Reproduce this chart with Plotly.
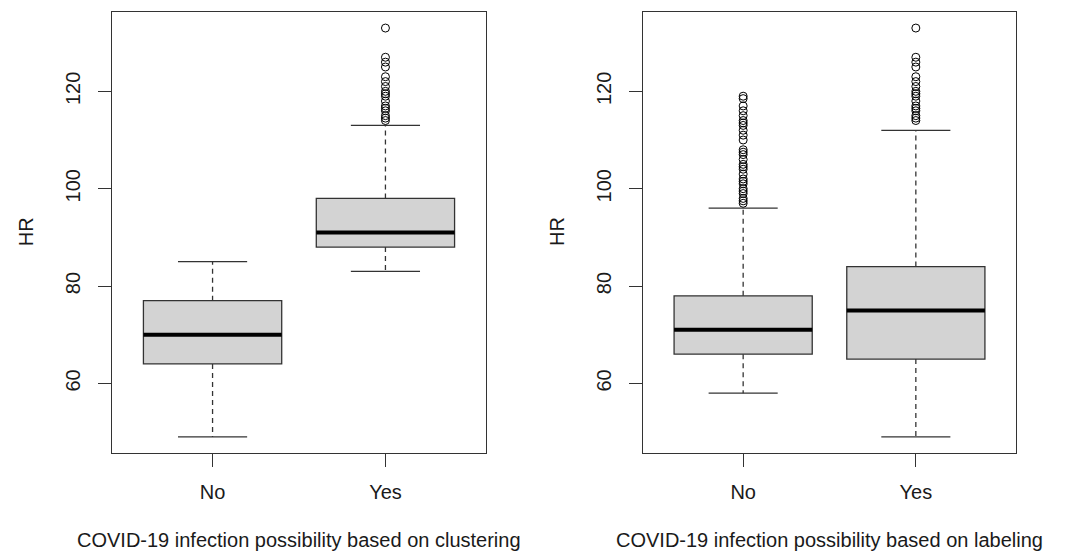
import plotly.graph_objects as go

# the page body adds an 8px margin; size the figure so it fills the 1067x553 window
OFF = 8
W, H = 1067 - OFF, 553 - OFF

# ---------------- data ----------------
categories = ["No", "Yes"]
cat_pos = [1, 2]

# Panel 1: clustering
clu_q1 = [64, 88]
clu_median = [70, 91]
clu_q3 = [77, 98]
clu_lower = [49, 83]
clu_upper = [85, 113]
clu_out_no = []
clu_out_yes = [114, 114.5, 115, 116, 116.5, 117, 118, 119, 119.5, 120, 121, 122, 123,
               125, 126, 127, 133]

# Panel 2: labeling
lab_q1 = [66, 65]
lab_median = [71, 75]
lab_q3 = [78, 84]
lab_lower = [58, 49]
lab_upper = [96, 112]
lab_out_no = [97, 97.5, 98, 99, 99.5, 100, 101, 101.5, 102, 103, 104, 104.5, 105, 106,
              107, 107.5, 108, 110, 111, 112, 113, 113.5, 114, 115, 116, 117, 118.5, 119]
lab_out_yes = [114, 114.5, 115, 116, 116.5, 117, 118, 119, 119.5, 120, 121, 122, 123,
               125, 126, 127, 133]

y_ticks = [60, 80, 100, 120]
y_title = "HR"
x_titles = ["COVID-19 infection possibility based on clustering",
            "COVID-19 infection possibility based on labeling"]

# ---------------- style ----------------
FONT = "Liberation Sans, Arial, sans-serif"
FS = 20
TXT = "#1a1a1a"
FRAME = "#333333"
BOX_FILL = "#d3d3d3"
BOX_HALF = 0.4
CAP_HALF = 0.2

fig = go.Figure()


def add_panel(xref, yref, q1, med, q3, lo, up, outliers):
    # box body
    fig.add_trace(go.Box(
        x=cat_pos, q1=q1, median=med, q3=q3, lowerfence=q1, upperfence=q3,
        width=2 * BOX_HALF, fillcolor=BOX_FILL,
        line=dict(color=FRAME, width=1.3), xaxis=xref, yaxis=yref,
        showlegend=False, hoverinfo="skip"))
    # whiskers (dashed)
    wx, wy = [], []
    for p, a, b, c, d in zip(cat_pos, q1, q3, lo, up):
        wx += [p, p, None, p, p, None]
        wy += [b, d, None, a, c, None]
    fig.add_trace(go.Scatter(x=wx, y=wy, mode="lines",
                             line=dict(color=FRAME, width=1.3, dash="5px,4px"),
                             xaxis=xref, yaxis=yref, showlegend=False, hoverinfo="skip"))
    # caps
    cx, cy = [], []
    for p, c, d in zip(cat_pos, lo, up):
        cx += [p - CAP_HALF, p + CAP_HALF, None, p - CAP_HALF, p + CAP_HALF, None]
        cy += [c, c, None, d, d, None]
    fig.add_trace(go.Scatter(x=cx, y=cy, mode="lines",
                             line=dict(color=FRAME, width=1.3),
                             xaxis=xref, yaxis=yref, showlegend=False, hoverinfo="skip"))
    # thick medians
    mx, my = [], []
    for p, m in zip(cat_pos, med):
        mx += [p - BOX_HALF, p + BOX_HALF, None]
        my += [m, m, None]
    fig.add_trace(go.Scatter(x=mx, y=my, mode="lines",
                             line=dict(color="black", width=4),
                             xaxis=xref, yaxis=yref, showlegend=False, hoverinfo="skip"))
    # outliers
    for p, vals in zip(cat_pos, outliers):
        if vals:
            fig.add_trace(go.Scatter(
                x=[p] * len(vals), y=vals, mode="markers",
                marker=dict(symbol="circle-open", size=8, color="black",
                            line=dict(width=1, color="black")),
                xaxis=xref, yaxis=yref, showlegend=False, hoverinfo="skip"))


add_panel("x", "y", clu_q1, clu_median, clu_q3, clu_lower, clu_upper,
          [clu_out_no, clu_out_yes])
add_panel("x2", "y2", lab_q1, lab_median, lab_q3, lab_lower, lab_upper,
          [lab_out_no, lab_out_yes])

# panel geometry (window pixels -> figure pixels)
left1, right1 = 112.3 - OFF, 485.7 - OFF
left2, right2 = 643.0 - OFF, 1016.0 - OFF
top, bottom = 11.7 - OFF, 453.3 - OFF
ydom = [1 - bottom / H, 1 - top / H]

xaxis_common = dict(range=[0.42, 2.58], tickvals=cat_pos, ticktext=categories,
                    ticks="outside", ticklen=13, tickwidth=1.3, tickcolor=FRAME,
                    showline=True, linecolor=FRAME, linewidth=1.3, mirror=True,
                    showgrid=False, zeroline=False, ticklabelstandoff=8,
                    tickfont=dict(family=FONT, size=FS, color=TXT))
yaxis_common = dict(range=[45.64, 136.36], tickvals=y_ticks,
                    ticks="outside", ticklen=13, tickwidth=1.3, tickcolor=FRAME,
                    showline=True, linecolor=FRAME, linewidth=1.3, mirror=True,
                    showgrid=False, zeroline=False, tickangle=-90, ticklabelstandoff=10,
                    tickfont=dict(family=FONT, size=FS, color=TXT))

fig.update_layout(
    width=W, height=H,
    margin=dict(l=0, r=0, t=0, b=0),
    paper_bgcolor="white", plot_bgcolor="white",
    boxmode="overlay",
    xaxis=dict(domain=[left1 / W, right1 / W], anchor="y", **xaxis_common),
    yaxis=dict(domain=ydom, anchor="x", **yaxis_common),
    xaxis2=dict(domain=[left2 / W, right2 / W], anchor="y2", **xaxis_common),
    yaxis2=dict(domain=ydom, anchor="x2", **yaxis_common),
)

anns = []
for lft, rgt, t in [(left1, right1, x_titles[0]), (left2, right2, x_titles[1])]:
    anns.append(dict(text=y_title, x=(lft - 86) / W, y=1 - (232 - OFF) / H,
                     xref="paper", yref="paper", xanchor="center", yanchor="middle",
                     textangle=-90, showarrow=False,
                     font=dict(family=FONT, size=FS, color=TXT)))
    anns.append(dict(text=t, x=((lft + rgt) / 2) / W, y=1 - (540 - OFF) / H,
                     xref="paper", yref="paper", xanchor="center", yanchor="middle",
                     showarrow=False, font=dict(family=FONT, size=FS, color=TXT)))
fig.update_layout(annotations=anns)

fig.write_html("out.html")
